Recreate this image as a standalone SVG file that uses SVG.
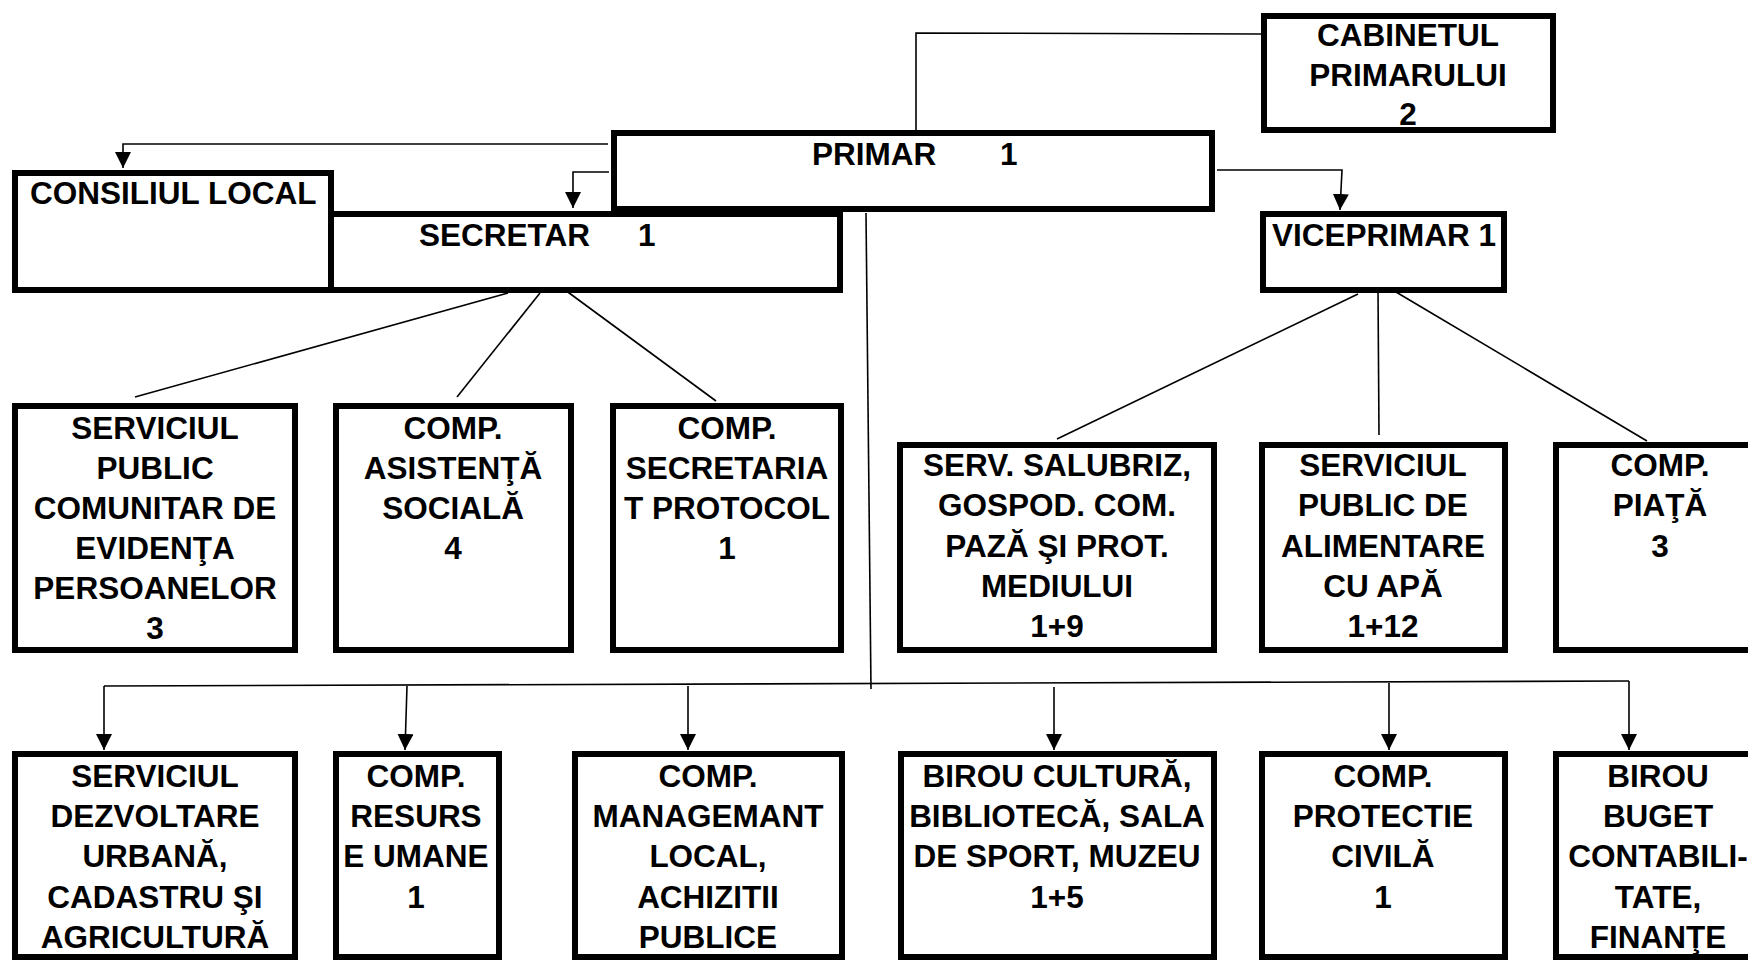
<svg xmlns="http://www.w3.org/2000/svg" width="1748" height="961" viewBox="0 0 1748 961">
<style>
.box{fill:#fff;stroke:#000;stroke-width:6}
.t{font-family:"Liberation Sans",Arial,sans-serif;font-weight:bold;font-size:31.5px;fill:#000;text-anchor:middle}
.tl{font-family:"Liberation Sans",Arial,sans-serif;font-weight:bold;font-size:31.5px;fill:#000}
.c{fill:none;stroke:#000;stroke-width:1.6}
</style>
<defs>
<marker id="arr" markerUnits="userSpaceOnUse" markerWidth="16" markerHeight="16" refX="16" refY="8" orient="auto" viewBox="0 0 16 16">
<path d="M0,0 L16,8 L0,16 z" fill="#000"/>
</marker>
</defs>
<rect width="1748" height="961" fill="#fff"/>
<g id="connectors">
<polyline class="c" points="916,130 916,33 1261,34"/>
<polyline class="c" points="608,144 123,144 123,168" marker-end="url(#arr)"/>
<polyline class="c" points="609,172 573,172 573,208" marker-end="url(#arr)"/>
<polyline class="c" points="1217,170 1342,170 1340,210" marker-end="url(#arr)"/>
<line class="c" x1="508" y1="293" x2="135" y2="397"/>
<line class="c" x1="540" y1="293" x2="457" y2="397"/>
<line class="c" x1="561" y1="287" x2="716" y2="401"/>
<line class="c" x1="1358" y1="294" x2="1057" y2="439"/>
<line class="c" x1="1378" y1="290" x2="1379" y2="435"/>
<line class="c" x1="1396" y1="292" x2="1647" y2="441"/>
<line class="c" x1="866" y1="213" x2="871" y2="689"/>
<line class="c" x1="104" y1="686" x2="1629" y2="681"/>
<line class="c" x1="104" y1="686" x2="104" y2="750" marker-end="url(#arr)"/>
<line class="c" x1="407" y1="686" x2="405" y2="750" marker-end="url(#arr)"/>
<line class="c" x1="688" y1="686" x2="688" y2="750" marker-end="url(#arr)"/>
<line class="c" x1="1054" y1="687" x2="1054" y2="750" marker-end="url(#arr)"/>
<line class="c" x1="1389" y1="683" x2="1389" y2="750" marker-end="url(#arr)"/>
<line class="c" x1="1629" y1="681" x2="1629" y2="750" marker-end="url(#arr)"/>
</g>
<g id="cabinetul">
<rect class="box" x="1264" y="16" width="289" height="114"/>
<text class="t" x="1408"><tspan x="1408" y="46">CABINETUL</tspan><tspan x="1408" y="86">PRIMARULUI</tspan><tspan x="1408" y="125">2</tspan></text>
</g>
<g id="consiliul">
<rect class="box" x="15" y="173" width="316" height="117"/>
<text class="tl" x="30" y="204">CONSILIUL LOCAL</text>
</g>
<g id="secretar">
<rect class="box" x="331" y="214" width="509" height="76"/>
<text class="tl" y="246"><tspan x="419">SECRETAR</tspan><tspan x="638">1</tspan></text>
</g>
<g id="primar">
<rect class="box" x="614" y="133" width="598" height="76"/>
<text class="tl" y="165"><tspan x="812">PRIMAR</tspan><tspan x="1000">1</tspan></text>
</g>
<g id="viceprimar">
<rect class="box" x="1263" y="214" width="241" height="76"/>
<text class="tl" x="1272" y="246">VICEPRIMAR 1</text>
</g>
<g id="serv-evidenta">
<rect class="box" x="15" y="406" width="280" height="244"/>
<text class="t"><tspan x="155" y="439">SERVICIUL</tspan><tspan x="155" y="479">PUBLIC</tspan><tspan x="155" y="519">COMUNITAR DE</tspan><tspan x="155" y="559">EVIDENŢA</tspan><tspan x="155" y="599">PERSOANELOR</tspan><tspan x="155" y="639">3</tspan></text>
</g>
<g id="comp-asistenta">
<rect class="box" x="336" y="406" width="235" height="244"/>
<text class="t"><tspan x="453" y="439">COMP.</tspan><tspan x="453" y="479">ASISTENŢĂ</tspan><tspan x="453" y="519">SOCIALĂ</tspan><tspan x="453" y="559">4</tspan></text>
</g>
<g id="comp-secretariat">
<rect class="box" x="613" y="406" width="228" height="244"/>
<text class="t"><tspan x="727" y="439">COMP.</tspan><tspan x="727" y="479">SECRETARIA</tspan><tspan x="727" y="519">T PROTOCOL</tspan><tspan x="727" y="559">1</tspan></text>
</g>
<g id="serv-salubriz">
<rect class="box" x="900" y="445" width="314" height="205"/>
<text class="t"><tspan x="1057" y="476">SERV. SALUBRIZ,</tspan><tspan x="1057" y="516">GOSPOD. COM.</tspan><tspan x="1057" y="557">PAZĂ ŞI PROT.</tspan><tspan x="1057" y="597">MEDIULUI</tspan><tspan x="1057" y="637">1+9</tspan></text>
</g>
<g id="serv-apa">
<rect class="box" x="1262" y="445" width="243" height="205"/>
<text class="t"><tspan x="1383" y="476">SERVICIUL</tspan><tspan x="1383" y="516">PUBLIC DE</tspan><tspan x="1383" y="557">ALIMENTARE</tspan><tspan x="1383" y="597">CU APĂ</tspan><tspan x="1383" y="637">1+12</tspan></text>
</g>
<g id="comp-piata">
<rect class="box" x="1556" y="445" width="210" height="205"/>
<text class="t"><tspan x="1660" y="476">COMP.</tspan><tspan x="1660" y="516">PIAŢĂ</tspan><tspan x="1660" y="557">3</tspan></text>
</g>
<g id="serv-dezvoltare">
<rect class="box" x="15" y="754" width="280" height="203"/>
<text class="t"><tspan x="155" y="787">SERVICIUL</tspan><tspan x="155" y="827">DEZVOLTARE</tspan><tspan x="155" y="867">URBANĂ,</tspan><tspan x="155" y="908">CADASTRU ŞI</tspan><tspan x="155" y="948">AGRICULTURĂ</tspan></text>
</g>
<g id="comp-resurse">
<rect class="box" x="336" y="754" width="163" height="203"/>
<text class="t"><tspan x="416" y="787">COMP.</tspan><tspan x="416" y="827">RESURS</tspan><tspan x="416" y="867">E UMANE</tspan><tspan x="416" y="908">1</tspan></text>
</g>
<g id="comp-management">
<rect class="box" x="575" y="754" width="267" height="203"/>
<text class="t"><tspan x="708" y="787">COMP.</tspan><tspan x="708" y="827">MANAGEMANT</tspan><tspan x="708" y="867">LOCAL,</tspan><tspan x="708" y="908">ACHIZITII</tspan><tspan x="708" y="948">PUBLICE</tspan></text>
</g>
<g id="birou-cultura">
<rect class="box" x="901" y="754" width="313" height="203"/>
<text class="t"><tspan x="1057" y="787">BIROU CULTURĂ,</tspan><tspan x="1057" y="827">BIBLIOTECĂ, SALA</tspan><tspan x="1057" y="867">DE SPORT, MUZEU</tspan><tspan x="1057" y="908">1+5</tspan></text>
</g>
<g id="comp-protectie">
<rect class="box" x="1262" y="754" width="243" height="203"/>
<text class="t"><tspan x="1383" y="787">COMP.</tspan><tspan x="1383" y="827">PROTECTIE</tspan><tspan x="1383" y="867">CIVILĂ</tspan><tspan x="1383" y="908">1</tspan></text>
</g>
<g id="birou-buget">
<rect class="box" x="1556" y="754" width="210" height="203"/>
<text class="t"><tspan x="1658" y="787">BIROU</tspan><tspan x="1658" y="827">BUGET</tspan><tspan x="1658" y="867">CONTABILI-</tspan><tspan x="1658" y="908">TATE,</tspan><tspan x="1658" y="948">FINANŢE</tspan></text>
</g>
</svg>
